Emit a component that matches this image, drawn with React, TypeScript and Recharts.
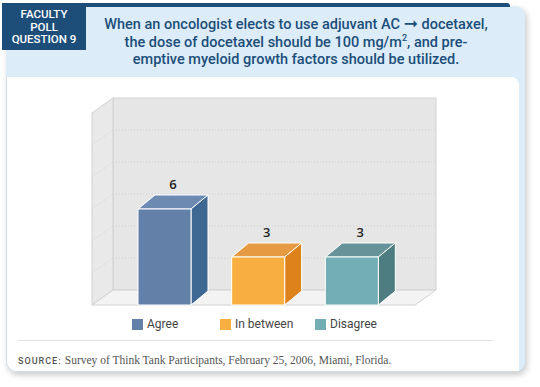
import { BarChart, Bar, XAxis, YAxis, CartesianGrid, LabelList } from 'recharts'

const categories = ['Agree', 'In between', 'Disagree']
const votes = [6, 3, 3]
const yTicks = [0, 2, 4, 6, 8, 10, 12]
const frontColors = ['#6381a8', '#f9af3f', '#73aeb5']
const topColors = ['#6d8bb2', '#e69a42', '#669399']
const sideColors = ['#3e6791', '#de821b', '#4e7d81']

const data = categories.map((name, i) => ({ name, votes: votes[i] }))

const NAVY = '#1d4e7a'
const BAR_DX = 17
const BAR_DY = 14
const WALL_DX = 21
const WALL_DY = 15
const SANS = 'Roboto, "Liberation Sans", sans-serif'

// front face + top + right side, drawn from the bar's own rect
function Box3D(props: any) {
  const { x, y, width, height, index } = props
  const r = x + width
  const b = y + height
  return (
    <g stroke="#fff" strokeWidth={1} strokeLinejoin="round">
      <polygon
        points={`${x},${y} ${r},${y} ${r + BAR_DX},${y - BAR_DY} ${x + BAR_DX},${y - BAR_DY}`}
        fill={topColors[index]}
      />
      <polygon
        points={`${r},${y} ${r + BAR_DX},${y - BAR_DY} ${r + BAR_DX},${b - BAR_DY} ${r},${b}`}
        fill={sideColors[index]}
      />
      <rect x={x} y={y} width={width} height={height} fill={frontColors[index]} />
    </g>
  )
}

// grid line renderer: first call also paints the walls and floor
function WallLine(props: any) {
  const { x, y, width, height, y1, index } = props
  const right = x + width
  const bottom = y + height
  const edge = Math.abs(y1 - y) < 0.5 || Math.abs(y1 - bottom) < 0.5
  return (
    <g key={`wl-${index}`}>
      {index === 0 && (
        <g stroke="#d2d2d2" strokeWidth={1}>
          <polygon
            points={`${x + WALL_DX},${y - WALL_DY} ${right + WALL_DX},${y - WALL_DY} ${right + WALL_DX},${bottom - WALL_DY} ${x + WALL_DX},${bottom - WALL_DY}`}
            fill="#e6e6e6"
          />
          <polygon
            points={`${x},${y} ${x + WALL_DX},${y - WALL_DY} ${x + WALL_DX},${bottom - WALL_DY} ${x},${bottom}`}
            fill="#e9e9e9"
          />
          <polygon
            points={`${x},${bottom} ${x + WALL_DX},${bottom - WALL_DY} ${right + WALL_DX},${bottom - WALL_DY} ${right},${bottom}`}
            fill="#f3f3f3"
          />
        </g>
      )}
      {!edge && (
        <g stroke="#cfcfcf" strokeWidth={1} strokeDasharray="1 2" fill="none">
          <line x1={x} y1={y1} x2={x + WALL_DX} y2={y1 - WALL_DY} />
          <line x1={x + WALL_DX} y1={y1 - WALL_DY} x2={right + WALL_DX} y2={y1 - WALL_DY} />
        </g>
      )}
    </g>
  )
}

function TopLabel(props: any) {
  const { x, y, width, value } = props
  return (
    <text
      x={x + width / 2 + BAR_DX / 2}
      y={y - BAR_DY - 6}
      textAnchor="middle"
      fontSize={13}
      fontWeight={600}
      fill="#222"
      fontFamily='"Open Sans", sans-serif'
    >
      {value}
    </text>
  )
}

export default function App() {
  return (
    <div style={{ position: 'absolute', left: 0, top: 0, width: 540, height: 387, background: '#fff', fontFamily: SANS }}>
      {/* card */}
      <div
        style={{
          position: 'absolute', left: 6, top: 6, width: 519, height: 366,
          background: '#dcedf9', borderRadius: '0 10px 10px 10px',
          boxShadow: '2px 3px 6px rgba(0,0,0,0.22)',
        }}
      />
      <div
        style={{
          position: 'absolute', left: 6, top: 77, width: 513, height: 295,
          background: '#fff', borderRadius: '0 8px 0 10px',
          borderLeft: '1px solid #d6dde3', borderBottom: '1px solid #d6dde3', boxSizing: 'border-box',
        }}
      />
      <div style={{ position: 'absolute', left: 2, top: 3, width: 508, height: 4, background: NAVY, borderRadius: '0 3px 0 0' }} />
      <div
        style={{
          position: 'absolute', left: 2, top: 3, width: 84, height: 47, background: NAVY,
          color: '#fff', fontSize: 11.5, fontWeight: 500, lineHeight: '12.5px', textAlign: 'center',
          paddingTop: 5, boxSizing: 'border-box',
        }}
      >
        FACULTY<br />POLL<br />QUESTION 9
      </div>
      <div
        style={{
          position: 'absolute', left: 86, top: 16, width: 420, textAlign: 'center', color: NAVY,
          fontSize: 14.5, fontWeight: 500, lineHeight: '17.5px', whiteSpace: 'nowrap',
        }}
      >
        When an oncologist elects to use adjuvant AC{' '}
        <span style={{ fontFamily: '"DejaVu Sans"', fontSize: 17, lineHeight: 0 }}>➞</span> docetaxel,<br />
        the dose of docetaxel should be 100 mg/m<sup style={{ fontSize: 9, lineHeight: 0 }}>2</sup>, and pre-<br />
        emptive myeloid growth factors should be utilized.
      </div>

      <div style={{ position: 'absolute', left: 0, top: 0 }}>
        <BarChart width={540} height={330} data={data} margin={{ top: 113, right: 125, bottom: 25, left: 92 }}>
          <CartesianGrid vertical={false} horizontal={(p: any) => <WallLine {...p} />} />
          <XAxis dataKey="name" hide padding={{ left: 26, right: 16 }} />
          <YAxis hide domain={[0, 12]} ticks={yTicks} />
          <Bar dataKey="votes" barSize={53} shape={(p: any) => <Box3D {...p} />} isAnimationActive={false}>
            <LabelList dataKey="votes" content={(p: any) => <TopLabel {...p} />} />
          </Bar>
        </BarChart>
      </div>

      {/* legend */}
      {categories.map((c, i) => (
        <div key={c} style={{ position: 'absolute', top: 318, left: [132, 220, 315][i], display: 'flex', alignItems: 'center', whiteSpace: 'nowrap' }}>
          <span style={{ display: 'inline-block', width: 11, height: 11, background: frontColors[i], marginRight: 4 }} />
          <span style={{ fontSize: 12, color: '#444', lineHeight: '13px' }}>{c}</span>
        </div>
      ))}

      <div style={{ position: 'absolute', left: 18, top: 340, width: 475, borderTop: '1px solid #e2e2e2' }} />
      <div style={{ position: 'absolute', left: 18, top: 349, whiteSpace: 'nowrap', color: '#555' }}>
        <span style={{ fontFamily: SANS, fontSize: 9, letterSpacing: 1, fontWeight: 500 }}>SOURCE: </span>
        <span style={{ fontFamily: '"Liberation Serif", serif', fontSize: 11.5 }}>
          Survey of Think Tank Participants, February 25, 2006, Miami, Florida.
        </span>
      </div>
    </div>
  )
}
